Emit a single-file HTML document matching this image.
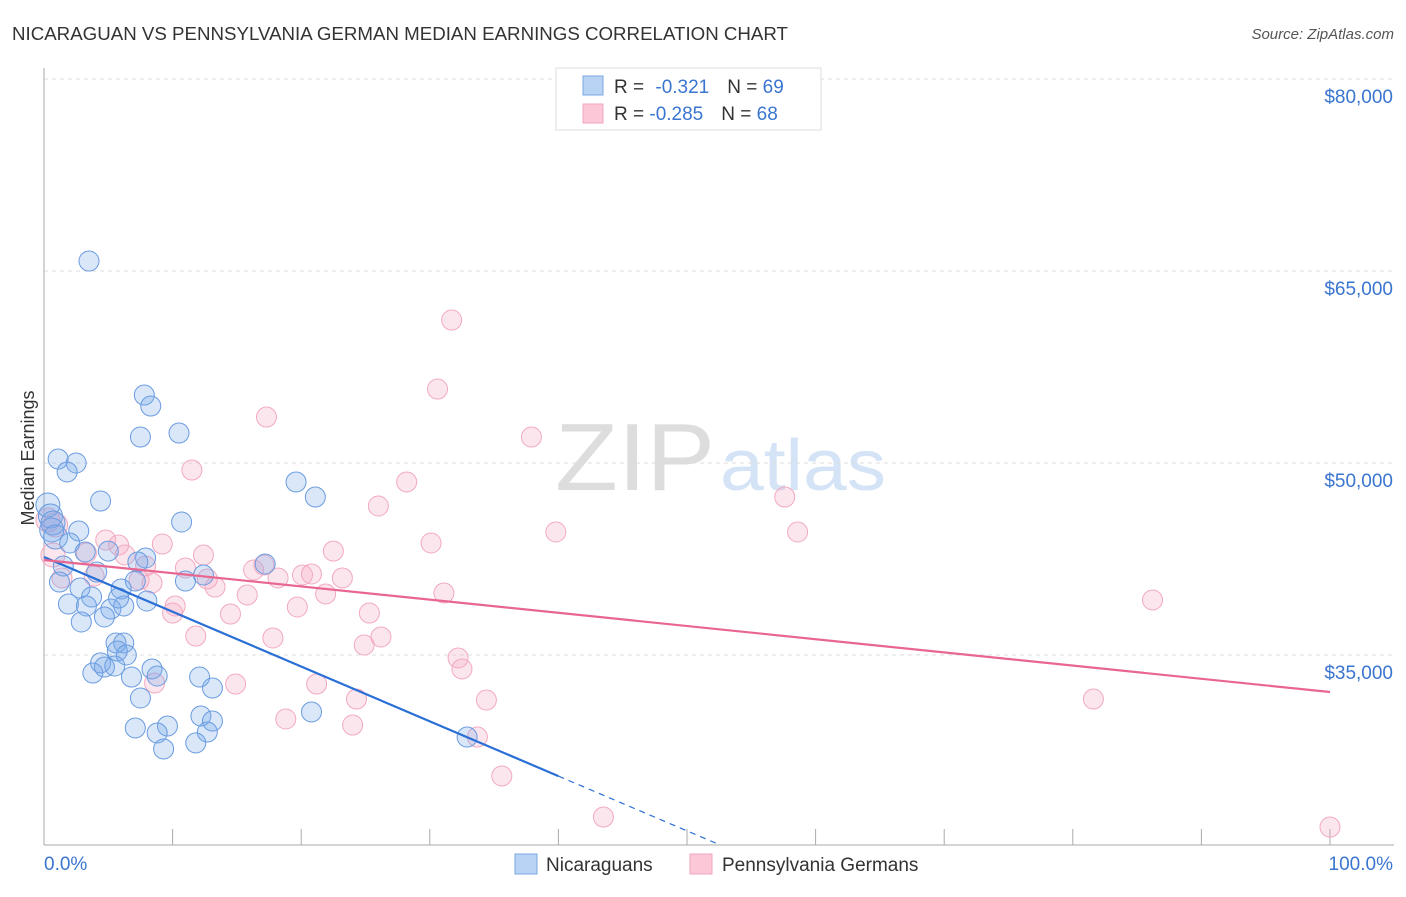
<!DOCTYPE html>
<html><head><meta charset="utf-8"><style>
body{margin:0;background:#fff;font-family:"Liberation Sans",sans-serif}
svg text{font-family:"Liberation Sans",sans-serif}
</style></head><body>
<svg id="c" width="1406" height="892" xmlns="http://www.w3.org/2000/svg">
<text x="12" y="40" font-size="18" fill="#333" textLength="776" lengthAdjust="spacingAndGlyphs">NICARAGUAN VS PENNSYLVANIA GERMAN MEDIAN EARNINGS CORRELATION CHART</text>
<text x="1394" y="39" font-size="15" fill="#555" font-style="italic" text-anchor="end">Source: ZipAtlas.com</text>
<text x="34" y="458" font-size="18" fill="#333" text-anchor="middle" transform="rotate(-90 34 458)">Median Earnings</text>
<text x="555" y="490" font-size="96" fill="#ddd" textLength="160" lengthAdjust="spacingAndGlyphs" font-family="Liberation Serif">ZIP</text>
<text x="720" y="490" font-size="72" fill="#d4e3f6" textLength="166" lengthAdjust="spacingAndGlyphs">atlas</text>
<g id="grid"></g><g id="axes"></g><g id="pink"></g><g id="blue"></g><g id="lines"></g>
<g>
<rect x="556" y="68" width="265" height="62" fill="#fff" stroke="#ddd"/>
<rect x="583" y="76" width="20" height="19" fill="#b9d3f5" stroke="#7aa7e3"/>
<rect x="583" y="104" width="20" height="19" fill="#fcc8d8" stroke="#f2a4bc"/>
<text x="614" y="93" font-size="19" fill="#333">R = <tspan fill="#3a75d0" dx="6">-0.321</tspan><tspan dx="18">N = </tspan><tspan fill="#3a75d0">69</tspan></text>
<text x="614" y="120" font-size="19" fill="#333">R = <tspan fill="#3a75d0">-0.285</tspan><tspan dx="18">N = </tspan><tspan fill="#3a75d0">68</tspan></text>
</g>
<g>
<rect x="515" y="854" width="22" height="20" fill="#b9d3f5" stroke="#7aa7e3"/>
<text x="546" y="871" font-size="19" fill="#333">Nicaraguans</text>
<rect x="690" y="854" width="22" height="20" fill="#fcc8d8" stroke="#f2a4bc"/>
<text x="722" y="871" font-size="19" fill="#333">Pennsylvania Germans</text>
</g>
</svg>
<script>
const yTicks=[80000,65000,50000,35000];
const yTickLabels=["$80,000","$65,000","$50,000","$35,000"];
const xTickLabels=["0.0%","100.0%"];
const blueX=[3.5,7.8,8.3,7.5,10.5,1.1,2.5,1.8,19.6,21.1,4.4,0.3,0.5,0.7,0.6,10.7,2.7,0.9,2.0,5.0,3.2,7.9,17.2,1.5,4.1,11.0,1.2,7.1,2.8,6.0,3.7,8.0,1.9,3.3,5.2,6.2,4.7,2.9,5.6,6.2,5.7,6.4,4.4,4.7,5.5,3.8,8.4,8.8,6.8,12.1,13.1,7.5,12.2,13.1,20.8,7.1,9.6,8.8,12.7,11.8,9.3,32.9,7.3,12.4,5.8];
const blueY=[65780,55310,54450,52030,52340,50310,50000,49300,48520,47340,47030,46720,45860,45310,44770,45390,44690,44220,43750,43120,43050,42580,42110,41950,41480,40780,40700,40780,40230,40160,39530,39220,38980,38830,38590,38830,37970,37580,35940,35940,35310,35000,34380,34060,34140,33590,33910,33360,33280,33280,32420,31640,30230,29840,30550,29300,29450,28910,28980,28130,27660,28590,42270,41250,39450];
const pinkX=[31.7,30.6,17.3,37.9,11.5,28.2,26.0,57.6,39.8,58.6,30.1,9.2,4.8,5.8,22.5,6.3,12.4,3.3,0.7,17.1,16.3,7.9,11.0,20.8,20.1,23.2,18.2,12.7,7.4,8.4,3.9,1.4,13.3,15.8,21.9,31.1,10.2,19.7,10.0,14.5,25.3,11.8,17.8,26.2,24.9,8.6,14.9,21.2,32.2,32.5,24.3,34.4,18.8,24.0,33.7,35.6,43.5,86.2,81.6,100,0.3,0.9];
const pinkY=[61170,55780,53590,52030,49450,48520,46640,47340,44610,44610,43750,43670,43980,43590,43120,42810,42810,42970,42810,42030,41640,41950,41800,41330,41250,41020,41020,40940,40860,40630,41170,41020,40310,39690,39770,39840,38830,38750,38280,38200,38280,36480,36330,36410,35780,32810,32730,32730,34770,33910,31560,31480,30000,29530,28590,25550,22340,39300,31560,21560,45550,45160];
const blueTrend=[42660,-428];
const pinkTrend=[42420,-103.1];
const NS="http://www.w3.org/2000/svg";
const X=p=>44+p*12.86, Y=v=>79+(80000-v)*0.0128;
function mk(t,a,p){const e=document.createElementNS(NS,t);for(const k in a)e.setAttribute(k,a[k]);document.getElementById(p).appendChild(e);return e;}
yTicks.forEach((v,i)=>{
 const l=mk('line',{x1:44,x2:1394,y1:Y(v),y2:Y(v),stroke:'#ddd','stroke-dasharray':'4,4'},'grid');
 
 
 const t=mk('text',{x:1393,y:Y(v)+24,'font-size':19,fill:'#3a75d0','text-anchor':'end'},'grid');
 t.textContent=yTickLabels[i];
 
 
});
mk('line',{x1:44,x2:44,y1:68,y2:845,stroke:'#aaa'},'axes');
mk('line',{x1:44,x2:1394,y1:845,y2:845,stroke:'#aaa'},'axes');
for(let i=0;i<=10;i++){const tk=mk('line',{x1:X(i*10),x2:X(i*10),y1:829,y2:845,stroke:'#aaa'},'axes');
 
 }
[[0,44,'start'],[100,1393,'end']].forEach((d,i)=>{const t=mk('text',{x:d[1],y:870,'font-size':19,fill:'#3a75d0','text-anchor':d[2]},'axes');t.textContent=xTickLabels[i];
 
 });
function dots(xs,ys,g,fill,stroke,name){xs.forEach((x,i)=>{const c=mk('circle',{cx:X(x),cy:Y(ys[i]),r:(x<1?12:10),fill:fill,stroke:stroke,'stroke-width':1},g);
 
 });}
dots(pinkX,pinkY,'pink','rgba(245,165,195,0.28)','#f2a9c0','pennsylvania-german-point');
dots(blueX,blueY,'blue','rgba(120,168,232,0.28)','#6a9be0','nicaraguan-point');
const bEnd=40, bZero=(blueTrend[0]-20157)/(-blueTrend[1]);
let l=mk('line',{x1:X(0),y1:Y(blueTrend[0]),x2:X(bEnd),y2:Y(blueTrend[0]+blueTrend[1]*bEnd),stroke:'#2a6fd6','stroke-width':2.2},'lines');


l=mk('line',{x1:X(bEnd),y1:Y(blueTrend[0]+blueTrend[1]*bEnd),x2:X(bZero),y2:Y(blueTrend[0]+blueTrend[1]*bZero),stroke:'#2a6fd6','stroke-width':1.2,'stroke-dasharray':'6,5'},'lines');


l=mk('line',{x1:X(0),y1:Y(pinkTrend[0]),x2:X(100),y2:Y(pinkTrend[0]+pinkTrend[1]*100),stroke:'#e8668f','stroke-width':2.2},'lines');


</script>
</body></html>
